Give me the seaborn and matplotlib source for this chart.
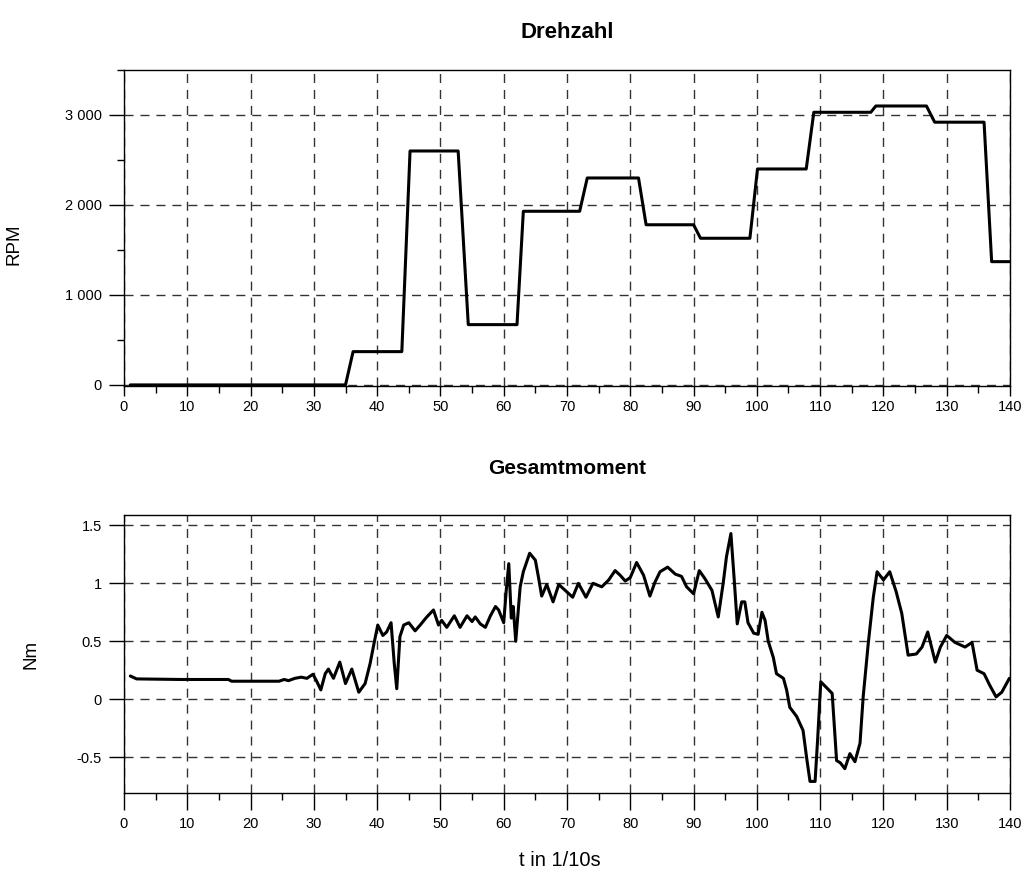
import matplotlib
matplotlib.use("Agg")
import matplotlib.pyplot as plt
import seaborn as sns
import pandas as pd
from matplotlib.ticker import FixedLocator, MultipleLocator, NullLocator

# ---------------- data ----------------
t_rpm = [1, 35.0, 36.2, 43.9, 45.2, 52.8, 54.4, 62.1, 63.1, 72.0, 73.2,
         81.3, 82.5, 90.0, 91.1, 98.9, 100.1, 107.8, 109.0, 118.0, 118.8,
         126.8, 128.1, 135.9, 137.1, 140]
rpm = [0, 0, 370, 370, 2600, 2600, 670, 670, 1930, 1930, 2300,
       2300, 1780, 1780, 1630, 1630, 2400, 2400, 3030, 3030, 3100,
       3100, 2920, 2920, 1370, 1370]

t_nm = [1, 2, 9, 16.5, 17, 24.5, 25.3, 26, 27, 28, 28.9, 29.85, 30.4, 31.1,
        31.8, 32.3, 33.1, 34.1, 35.0, 36.0, 37.1, 38.1, 38.9, 39.5, 40.1,
        40.9, 41.5, 42.2, 42.7, 43.1, 43.6, 44.2, 45.0, 46.0, 46.8, 47.85,
        48.9, 49.7, 50.2, 51.0, 52.2, 53.1, 54.2, 55.0, 55.5, 56.3, 57.1,
        57.9, 58.7, 59.2, 60.0, 60.4, 60.8, 61.2, 61.5, 61.9, 62.6, 63.1,
        64.1, 65.0, 65.5, 66.0, 66.8, 67.8, 68.7, 69.7, 70.9, 71.8, 73.0,
        74.1, 75.5, 76.6, 77.6, 78.4, 79.2, 80.0, 81.0, 82.1, 83.1, 83.9,
        84.7, 85.9, 87.1, 88.1, 88.9, 90.0, 90.9, 91.8, 92.9, 93.9, 94.7,
        95.2, 95.9, 96.4, 96.9, 97.6, 98.1, 98.6, 99.5, 100.2, 100.8,
        101.3, 101.8, 102.6, 103.1, 104.2, 104.7, 105.2, 106.3, 107.3,
        107.9, 108.4, 109.2, 109.6, 110.1, 111.9, 112.6, 113.2, 113.9,
        114.7, 115.5, 116.3, 116.8, 117.6, 118.4, 119.0, 120.0, 121.0,
        122.0, 122.9, 123.9, 125.2, 126.1, 127.0, 128.2, 129.0, 130.0,
        131.3, 132.9, 134.0, 134.8, 135.9, 136.8, 137.8, 138.7, 139.9]
nm = [0.20, 0.175, 0.17, 0.17, 0.155, 0.155, 0.17, 0.16, 0.18, 0.19, 0.18,
      0.215, 0.16, 0.08, 0.22, 0.26, 0.18, 0.32, 0.135, 0.26, 0.06, 0.135,
      0.31, 0.48, 0.64, 0.55, 0.58, 0.66, 0.31, 0.09, 0.54, 0.64, 0.66,
      0.59, 0.64, 0.71, 0.77, 0.64, 0.68, 0.62, 0.72, 0.62, 0.72, 0.67,
      0.71, 0.65, 0.62, 0.72, 0.80, 0.77, 0.66, 0.94, 1.17, 0.70, 0.80,
      0.50, 0.97, 1.10, 1.26, 1.20, 1.05, 0.89, 0.99, 0.84, 0.99, 0.94,
      0.88, 1.00, 0.88, 1.00, 0.97, 1.03, 1.11, 1.07, 1.02, 1.05, 1.18,
      1.07, 0.89, 1.01, 1.10, 1.14, 1.08, 1.06, 0.97, 0.91, 1.11, 1.04,
      0.94, 0.71, 1.01, 1.23, 1.43, 1.05, 0.65, 0.84, 0.84, 0.66, 0.57,
      0.56, 0.75, 0.68, 0.50, 0.36, 0.22, 0.18, 0.08, -0.07, -0.15, -0.27,
      -0.52, -0.71, -0.71, -0.35, 0.15, 0.05, -0.53, -0.55, -0.60, -0.47,
      -0.54, -0.38, 0.02, 0.48, 0.88, 1.10, 1.03, 1.10, 0.93, 0.74, 0.38,
      0.39, 0.45, 0.58, 0.32, 0.45, 0.55, 0.49, 0.45, 0.49, 0.25, 0.22,
      0.12, 0.02, 0.06, 0.18]

x_ticks = list(range(0, 141, 10))
rpm_ticks = [0, 1000, 2000, 3000]
rpm_tick_labels = ["0", "1 000", "2 000", "3 000"]
nm_ticks = [-0.5, 0, 0.5, 1, 1.5]
nm_tick_labels = ["-0.5", "0", "0.5", "1", "1.5"]

# ---------------- style ----------------
sns.set_theme(style="white")
plt.rcParams["font.family"] = ["Liberation Sans", "DejaVu Sans"]
plt.rcParams["lines.scale_dashes"] = False

W, H = 1029, 876
fig = plt.figure(figsize=(W / 100, H / 100), dpi=100)
fig.patch.set_facecolor("white")

ax1 = fig.add_axes([124 / W, 1 - 386 / H, 886 / W, 316 / H])
ax2 = fig.add_axes([124 / W, 1 - 793 / H, 886 / W, 278 / H])

sns.lineplot(data=pd.DataFrame({"t": t_rpm, "v": rpm}), x="t", y="v",
             ax=ax1, color="black", lw=2.2, estimator=None, sort=False)
sns.lineplot(data=pd.DataFrame({"t": t_nm, "v": nm}), x="t", y="v",
             ax=ax2, color="black", lw=2.2, estimator=None, sort=False)


def style(ax, xlen, xpad):
    ax.set_facecolor("white")
    ax.set_xlim(0, 140)
    ax.xaxis.set_major_locator(FixedLocator(x_ticks))
    ax.xaxis.set_minor_locator(MultipleLocator(5))
    ax.grid(True, which="major", color="#333333", lw=1.0,
            linestyle=(0, (6.5, 5)))
    ax.grid(False, which="minor")
    for s in ax.spines.values():
        s.set_visible(True)
        s.set_color("black")
        s.set_linewidth(1.0)
    ax.tick_params(which="major", direction="out", width=1,
                   color="black", labelsize=10.5, labelcolor="black",
                   bottom=True, left=True, top=False, right=False)
    ax.tick_params(axis="x", which="major", length=xlen, pad=xpad)
    ax.tick_params(axis="y", which="major", length=11, pad=5)
    ax.tick_params(which="minor", direction="out", length=5, width=1,
                   color="black", bottom=True, left=True, top=False,
                   right=False)
    ax.set_xlabel("")
    ax.set_ylabel("")


style(ax1, 7, 3)
ax1.set_ylim(-12, 3500)
ax1.yaxis.set_major_locator(FixedLocator(rpm_ticks))
ax1.set_yticklabels(rpm_tick_labels)
ax1.yaxis.set_minor_locator(MultipleLocator(500))
ax1.set_ylabel("RPM", fontsize=13.5, color="black")
ax1.yaxis.set_label_coords(-0.115, 0.45)

style(ax2, 12, 5)
ax2.set_ylim(-0.81, 1.59)
ax2.yaxis.set_major_locator(FixedLocator(nm_ticks))
ax2.set_yticklabels(nm_tick_labels)
ax2.yaxis.set_minor_locator(NullLocator())
ax2.set_ylabel("Nm", fontsize=13.5, color="black")
ax2.yaxis.set_label_coords(-0.095, 0.5)

fig.text(567 / W, 1 - 32 / H, "Drehzahl", ha="center", va="center",
         fontsize=16, fontweight="bold", color="black")
fig.text(567 / W, 1 - 468 / H, "Gesamtmoment", ha="center", va="center",
         fontsize=15, fontweight="bold", color="black")
fig.text(560 / W, 1 - 860 / H, "t in 1/10s", ha="center", va="center",
         fontsize=14.5, color="black")

fig.savefig("out.png", dpi=100, facecolor="white")
